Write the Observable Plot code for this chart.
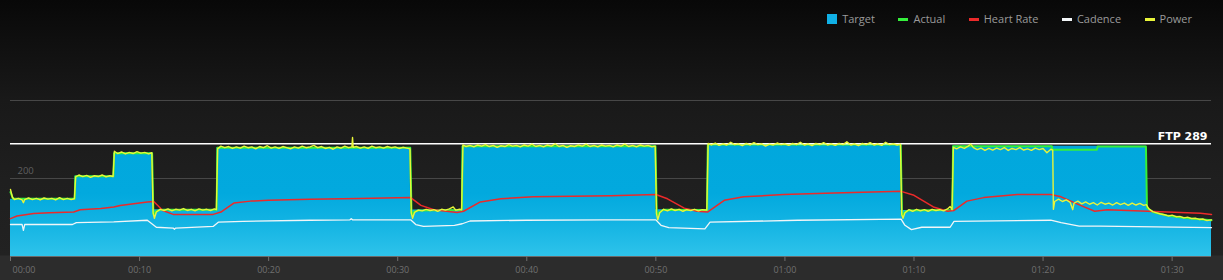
<!DOCTYPE html>
<html>
<head>
<meta charset="utf-8">
<script src="https://cdn.jsdelivr.net/npm/d3@7"></script>
<script src="https://cdn.jsdelivr.net/npm/@observablehq/plot@0.6"></script>
<style>
  html, body { margin: 0; padding: 0; background: #0a0a0a; }
  #wrap {
    position: relative; width: 1223px; height: 280px; overflow: hidden;
    background: linear-gradient(to bottom, #080808 0px, #0f0f0f 40px, #191919 100px, #1f1f1f 180px, #222222 255px, #2c2c2c 256px, #2c2c2c 280px);
    font-family: "Open Sans", "Noto Sans", sans-serif;
  }
  #legend {
    position: absolute; top: 13px; right: 31px; height: 12px;
    display: flex; align-items: center; gap: 23.5px;
    font-size: 11px; color: #9a9a9a; line-height: 12px;
  }
  .item { display: flex; align-items: center; gap: 5px; }
  .sq { width: 10px; height: 10px; }
  .ln { width: 10px; height: 3px; }
  #chart { position: absolute; left: 0; top: 0; }
</style>
</head>
<body>
<div id="wrap">
  <div id="chart"></div>
  <div id="legend"></div>
</div>
<script>
// ---- data (time in minutes, values in chart units) ----
const seriesNames = ["Target", "Actual", "Heart Rate", "Cadence", "Power"];
const seriesColors = ["#10b0e6", "#35f03c", "#ec2a2a", "#f2f6f8", "#e8f53a"];

const xTicks = [0, 10, 20, 30, 40, 50, 60, 70, 80, 90];
const xTickLabels = ["00:00","00:10","00:20","00:30","00:40","00:50","01:00","01:10","01:20","01:30"];
const yGrid = [200, 400];
const yLabels = [200];
const ftp = 289;

const target = [
  [0,147],[4.97,147],[5.0,206],[7.97,206],[8.0,265],[10.97,265],[11.0,120],[15.97,120],
  [16.0,279],[30.97,279],[31.0,119],[34.97,119],[35.0,283],[49.97,283],[50.0,120],[53.97,120],
  [54.0,287],[68.97,287],[69.0,118],[72.97,118],[73.0,283],[88.0,283],
  [88.02,125],[88.5,114],[89.6,105],[91.0,99],[93.05,93]
];

const actual = [
  [0,165],[0.2,148],[4.97,148],[5.03,206],[7.97,206],[8.03,265],[10.97,265],[11.07,108],[11.3,116],[11.6,120],
  [15.97,120],[16.03,279],[30.97,279],[31.07,108],[31.3,115],[31.6,118],[34.97,119],[35.03,283],[49.97,283],
  [50.07,106],[50.3,114],[50.6,120],[53.97,119],[54.03,287],[68.97,287],[69.07,105],[69.3,114],[69.6,118],
  [72.97,119],[73.03,283],[80.68,283],[80.72,274],[84.17,274],[84.23,282],[87.97,282],
  [88.05,125],[88.5,114],[89.6,105],[91.0,99],[93.05,93]
];

const power = [
  [0,172],[0.15,152],[0.3,146],[0.6,149],[0.9,145],[1.0,138],[1.1,146],[1.4,150],[1.7,146],[2.0,149],[2.3,145],
  [2.6,150],[2.9,147],[3.2,149],[3.5,145],[3.8,151],[4.1,146],[4.4,149],[4.7,146],[4.95,148],
  [5.05,204],[5.3,209],[5.6,205],[5.9,208],[6.2,203],[6.5,207],[6.8,205],[7.1,209],[7.4,204],[7.7,207],[7.95,205],
  [8.05,270],[8.3,264],[8.6,268],[8.9,263],[9.2,267],[9.5,264],[9.8,269],[10.1,265],[10.4,267],[10.7,263],[10.95,266],
  [11.05,112],[11.15,98],[11.3,114],[11.6,121],[11.9,118],[12.2,122],[12.5,117],[12.8,121],[13.1,119],[13.4,123],
  [13.7,118],[14.0,121],[14.3,117],[14.6,122],[14.9,119],[15.2,121],[15.5,118],[15.8,122],[15.95,120],
  [16.05,276],[16.3,283],[16.6,279],[16.9,282],[17.2,277],[17.5,281],[17.8,278],[18.1,283],[18.4,279],[18.7,281],
  [19.0,276],[19.3,282],[19.6,279],[19.9,284],[20.2,278],[20.5,281],[20.8,277],[21.1,282],[21.4,279],[21.7,276],
  [22.0,281],[22.3,278],[22.6,283],[22.9,279],[23.2,281],[23.5,285],[23.8,279],[24.1,282],[24.4,277],[24.7,280],
  [25.0,275],[25.3,281],[25.6,278],[25.9,283],[26.2,279],[26.45,281],[26.5,305],[26.55,280],[26.8,282],[27.1,278],
  [27.4,281],[27.7,277],[28.0,283],[28.3,279],[28.6,281],[28.9,278],[29.2,282],[29.5,279],[29.8,281],[30.1,277],
  [30.4,280],[30.7,278],[30.95,276],
  [31.05,112],[31.15,98],[31.3,113],[31.6,119],[31.9,117],[32.2,121],[32.5,118],[32.8,120],[33.1,116],[33.4,121],
  [33.7,119],[34.0,122],[34.3,127],[34.5,119],[34.8,121],[34.95,120],
  [35.05,286],[35.3,282],[35.6,285],[35.9,281],[36.2,286],[36.5,283],[36.8,287],[37.1,282],[37.4,285],[37.7,280],
  [38.0,284],[38.3,282],[38.6,287],[38.9,283],[39.2,285],[39.5,281],[39.8,286],[40.1,283],[40.4,288],[40.7,282],
  [41.0,285],[41.3,281],[41.6,286],[41.9,283],[42.2,289],[42.5,282],[42.8,285],[43.1,280],[43.4,284],[43.7,282],
  [44.0,286],[44.3,283],[44.6,288],[44.9,282],[45.2,285],[45.5,281],[45.8,286],[46.1,283],[46.4,285],[46.7,281],
  [47.0,286],[47.3,283],[47.6,288],[47.9,282],[48.2,285],[48.5,281],[48.8,286],[49.1,283],[49.4,285],[49.7,281],[49.95,283],
  [50.05,110],[50.15,94],[50.3,112],[50.6,121],[50.9,117],[51.2,122],[51.5,118],[51.8,121],[52.1,116],[52.4,120],
  [52.7,118],[53.0,121],[53.3,117],[53.6,120],[53.95,119],
  [54.05,290],[54.3,286],[54.6,291],[54.9,285],[55.2,289],[55.5,286],[55.8,293],[56.1,287],[56.4,289],[56.7,284],
  [57.0,290],[57.3,286],[57.6,292],[57.9,287],[58.2,289],[58.5,283],[58.8,288],[59.1,286],[59.4,291],[59.7,287],
  [60.0,289],[60.3,285],[60.6,290],[60.9,287],[61.2,293],[61.5,286],[61.8,289],[62.1,284],[62.4,290],[62.7,287],
  [63.0,292],[63.3,286],[63.6,289],[63.9,285],[64.2,290],[64.5,287],[64.8,294],[65.1,286],[65.4,289],[65.7,284],
  [66.0,290],[66.3,287],[66.6,292],[66.9,286],[67.2,289],[67.5,285],[67.8,293],[68.1,287],[68.4,289],[68.7,286],[68.95,288],
  [69.05,108],[69.15,98],[69.3,112],[69.6,120],[69.9,116],[70.2,121],[70.5,117],[70.8,120],[71.1,116],[71.4,121],
  [71.7,118],[72.0,120],[72.3,117],[72.6,122],[72.8,128],[72.95,120],
  [73.05,280],[73.3,276],[73.6,281],[73.9,277],[74.2,283],[74.4,288],[74.6,279],[74.9,274],[75.2,278],[75.5,272],
  [75.8,277],[76.1,273],[76.4,278],[76.7,274],[77.0,279],[77.3,272],[77.6,277],[77.9,274],[78.2,279],[78.5,273],
  [78.8,276],[79.1,272],[79.4,278],[79.7,274],[80.0,277],[80.3,266],[80.6,275],[80.75,273],
  [80.8,121],[80.9,141],[81.2,147],[81.5,141],[81.8,145],[82.1,139],[82.3,120],[82.4,137],[82.7,142],[83.0,135],
  [83.3,140],[83.6,134],[83.9,138],[84.2,132],[84.5,139],[84.8,134],[85.1,137],[85.4,132],[85.7,138],[86.0,133],
  [86.3,137],[86.6,131],[86.9,137],[87.2,132],[87.5,136],[87.8,131],[88.0,133],
  [88.2,122],[88.5,115],[88.8,112],[89.1,109],[89.4,107],[89.7,104],[90.0,106],[90.3,102],[90.6,103],[90.9,99],
  [91.2,101],[91.5,97],[91.8,98],[92.1,95],[92.4,96],[92.7,92],[93.05,94]
];

const heartRate = [
  [0,97],[0.5,104],[1.8,110],[3,112],[4.9,114],[5.4,120],[7,123],[8,127],[8.5,131],[10.6,140],[11.1,141],
  [11.8,118],[12.6,108],[15.7,108],[16.3,114],[17.3,137],[18.6,142],[20,144],[23.2,147],[27,149],[31,151],
  [31.8,131],[32.8,120],[34.6,113],[35.1,116],[36.4,140],[38,148],[40.5,153],[46.5,156],[50,159],
  [50.9,148],[52.2,124],[53.2,116],[54,114],[55.3,144],[56.8,153],[59.9,159],[63.8,163],[69,167],
  [70,157],[71.5,127],[72.6,116],[73.1,118],[74.1,142],[75.4,151],[78,159],[80.6,159],[81.4,153],
  [82.9,131],[84,116],[85,120],[88.1,116],[89.6,114],[92.2,111],[93.05,108]
];

const cadence = [
  [0,82],[0.9,82],[1.0,67],[1.1,82],[4.8,82],[5.1,87],[8,89],[10.6,93],[11.1,80],[11.3,75],[12.6,73],[12.7,70],
  [12.8,73],[15.7,77],[16.1,88],[18,90],[23.2,93],[26.3,94],[26.4,97],[26.5,94],[31,94],[31.4,82],[32,77],
  [34.4,80],[35,84],[35.6,91],[40,93],[46,94],[50,94],[50.4,80],[51,74],[53.8,71],[54.2,88],[61,93],[69,96],
  [69.3,80],[69.8,69],[70.6,75],[72.8,75],[73.1,90],[80.6,93],[81.4,87],[82.8,78],[84.4,78],[93.05,74]
];

// ---- legend ----
const legend = document.getElementById("legend");
seriesNames.forEach((name, i) => {
  const it = document.createElement("div");
  it.className = "item";
  const sw = document.createElement("div");
  sw.className = i === 0 ? "sq" : "ln";
  sw.style.background = seriesColors[i];
  const tx = document.createElement("span");
  tx.textContent = name;
  it.appendChild(sw); it.appendChild(tx);
  legend.appendChild(it);
});

// ---- chart ----
const X = d => d[0], Y = d => d[1];
const gradientDefs = () => {
  const defs = d3.create("svg:defs");
  const g = defs.append("linearGradient").attr("id", "tgtGrad")
    .attr("gradientUnits", "userSpaceOnUse").attr("x1", 0).attr("x2", 0).attr("y1", 100).attr("y2", 256);
  [[0, "#00a6dc"], [0.6, "#02a9de"], [0.78, "#12b3e3"], [1, "#2ec3ea"]].forEach(([o, c]) =>
    g.append("stop").attr("offset", o).attr("stop-color", c));
  return defs.node();
};

const chart = Plot.plot({
  width: 1223, height: 280,
  marginLeft: 10, marginRight: 12, marginTop: 100, marginBottom: 24,
  x: { domain: [0, 93.05] },
  y: { domain: [0, 400], axis: null },
  style: { background: "transparent", fontFamily: "'Open Sans', sans-serif", fontSize: "9px", overflow: "visible" },
  marks: [
    gradientDefs,
    Plot.ruleY(yGrid, { stroke: "#474747", strokeWidth: 1 }),
    Plot.text(yLabels, { y: d => d, text: d => String(d), frameAnchor: "left", textAnchor: "start", dx: 7, dy: -8, fill: "#5f5f5f", fontSize: 9.5 }),
    Plot.areaY(target, { x: X, y: Y, fill: "url(#tgtGrad)" }),
    Plot.ruleY([0], { stroke: "#6a6a6a", strokeWidth: 1 }),
    Plot.line(cadence, { x: X, y: Y, stroke: seriesColors[3], strokeWidth: 1.3 }),
    Plot.line(actual, { x: X, y: Y, stroke: seriesColors[1], strokeWidth: 2 }),
    Plot.line(heartRate, { x: X, y: Y, stroke: seriesColors[2], strokeWidth: 1.5 }),
    Plot.ruleY([ftp], { stroke: "#ffffff", strokeWidth: 1.5 }),
    Plot.line(power, { x: X, y: Y, stroke: seriesColors[4], strokeWidth: 1.4 }),
    Plot.text([ftp], { y: d => d, text: d => "FTP " + d, frameAnchor: "right", textAnchor: "end", dx: -4, dy: -7,
      fill: "#ffffff", fontWeight: "bold", fontSize: 11, fontFamily: "'DejaVu Sans', sans-serif" }),
    Plot.axisX(xTicks, { tickSize: 5, tickPadding: 5, color: "#707070",
      tickFormat: d => d === 0 ? "" : xTickLabels[xTicks.indexOf(d)] }),
    Plot.text([0], { x: d => d, text: d => xTickLabels[xTicks.indexOf(d)], frameAnchor: "bottom",
      textAnchor: "start", lineAnchor: "top", dx: 2, dy: 10, fill: "#707070", fontSize: 9 })
  ]
});
document.getElementById("chart").appendChild(chart);
</script>
</body>
</html>
